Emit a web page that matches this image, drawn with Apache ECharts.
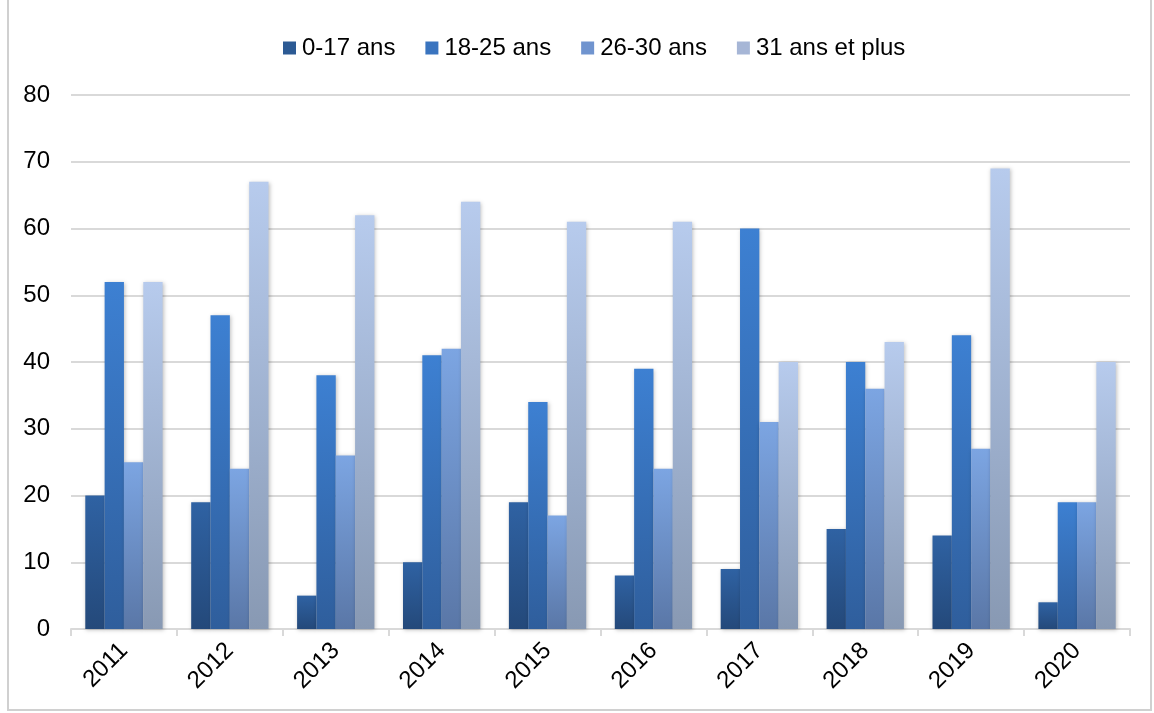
<!DOCTYPE html>
<html><head><meta charset="utf-8">
<script src="https://cdn.jsdelivr.net/npm/echarts@6/dist/echarts.min.js"></script>
<style>
html,body{margin:0;padding:0;background:#fff;}
#wrap{position:absolute;left:7px;top:0;width:1145px;height:711px;border:2px solid #d0d0d0;border-top:none;box-sizing:border-box;}
#c{position:absolute;left:0;top:0;width:1154px;height:713px;}
</style></head><body>
<div id="wrap"></div>
<div id="c"></div>
<script>
const categories = ['2011','2012','2013','2014','2015','2016','2017','2018','2019','2020'];
const seriesNames = ['0-17 ans','18-25 ans','26-30 ans','31 ans et plus'];
const s0_17 = [20,19,5,10,19,8,9,15,14,4];
const s18_25 = [52,47,38,41,34,39,60,40,44,19];
const s26_30 = [25,24,26,42,17,24,31,36,27,19];
const s31plus = [52,67,62,64,61,61,40,43,69,40];
const yTicks = {min:0, max:80, interval:10};

const grads = [
  ['#2f62a3','#24497a'],
  ['#3d80d2','#2f5e9c'],
  ['#7ca5e2','#5a77a7'],
  ['#b7cbed','#8899b3']
];
const legendColors = ['#2c5a94','#3a74bf','#7094cf','#a6b6d6'];
const data = [s0_17, s18_25, s26_30, s31plus];
const font = 'Liberation Sans, Arial';

const chart = echarts.init(document.getElementById('c'));
chart.setOption({
  animation:false,
  legend:{
    top:31, left:278, itemWidth:13, itemHeight:13, itemGap:30,
    textStyle:{fontFamily:font, fontSize:24, color:'#000', padding:[0,0,0,1]},
    data: seriesNames.map((n,i)=>({name:n, icon:'rect', itemStyle:{color:legendColors[i]}}))
  },
  grid:{left:71, right:24, top:95, bottom:84},
  xAxis:{
    type:'category', data:categories,
    axisLine:{lineStyle:{color:'#d9d9d9', width:2}},
    axisTick:{show:true, length:7, lineStyle:{color:'#d9d9d9', width:2}},
    axisLabel:{rotate:45, fontFamily:font, fontSize:24, color:'#000', margin:18}
  },
  yAxis:{
    type:'value', min:yTicks.min, max:yTicks.max, interval:yTicks.interval,
    axisLine:{show:false}, axisTick:{show:false},
    splitLine:{lineStyle:{color:'#d9d9d9', width:2}},
    axisLabel:{fontFamily:font, fontSize:24, color:'#000', margin:21}
  },
  series: seriesNames.map((n,i)=>({
    name:n, type:'bar', data:data[i],
    barGap:'0%', barCategoryGap:'27%',
    itemStyle:{
      color:new echarts.graphic.LinearGradient(0,0,0,1,[{offset:0,color:grads[i][0]},{offset:1,color:grads[i][1]}]),
      shadowColor:'rgba(0,0,0,0.25)', shadowBlur:4, shadowOffsetX:1, shadowOffsetY:1
    }
  }))
});
</script>
</body></html>
